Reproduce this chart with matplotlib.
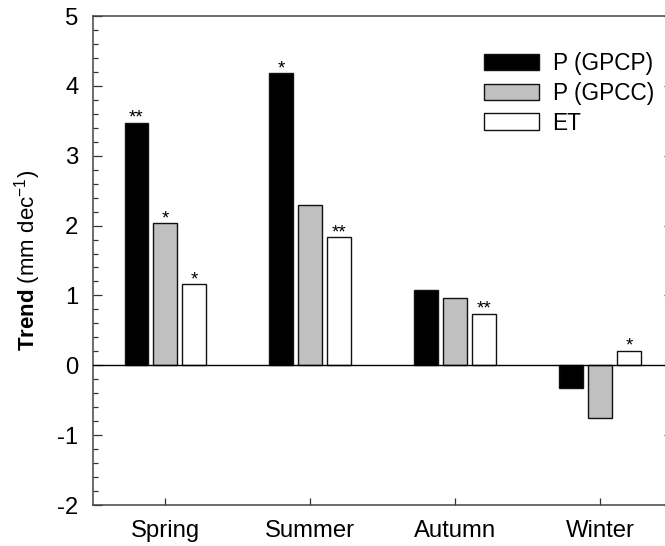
import matplotlib
matplotlib.use("Agg")
import matplotlib.pyplot as plt
import numpy as np
from matplotlib.ticker import MultipleLocator

plt.rcParams['font.family'] = ['Liberation Sans', 'DejaVu Sans']
plt.rcParams['mathtext.fontset'] = 'custom'
plt.rcParams['mathtext.rm'] = 'Liberation Sans'
plt.rcParams['mathtext.bf'] = 'Liberation Sans:bold'

seasons = ["Spring", "Summer", "Autumn", "Winter"]
p_gpcp = [3.47, 4.18, 1.08, -0.32]
p_gpcc = [2.03, 2.30, 0.96, -0.76]
et = [1.16, 1.83, 0.74, 0.21]
sig_gpcp = ["**", "*", "", ""]
sig_gpcc = ["*", "", "", ""]
sig_et = ["*", "**", "**", "*"]
series_labels = ["P (GPCP)", "P (GPCC)", "ET"]
y_ticks = [-2, -1, 0, 1, 2, 3, 4, 5]

W, H = 665, 546
fig = plt.figure(figsize=(W / 100, H / 100), dpi=100)
ax = fig.add_axes([93 / W, 1 - 505 / H, (672.5 - 93) / W, (505 - 16) / H])

x = np.arange(len(seasons))
bw = 0.165
pitch = 0.2
colors = ["black", "#c0c0c0", "white"]
series = [p_gpcp, p_gpcc, et]
sigs = [sig_gpcp, sig_gpcc, sig_et]
for i, (vals, col, lab, sg) in enumerate(zip(series, colors, series_labels, sigs)):
    xs = x + (i - 1) * pitch
    ax.bar(xs, vals, width=bw, color=col, edgecolor="#111111", linewidth=1.0,
           label=lab, zorder=2)
    for xx, v, s in zip(xs, vals, sg):
        if s:
            ax.annotate(s, (xx, v), xytext=(0, 0), textcoords="offset points",
                        ha="center", va="baseline", fontsize=13.5, zorder=3)

ax.axhline(0, color="black", linewidth=1.0, zorder=3)
ax.set_xlim(-0.5, 3.5)
ax.set_ylim(-2, 5)
ax.set_xticks(x)
ax.set_xticklabels(seasons, fontsize=17.2)
ax.set_yticks(y_ticks)
ax.set_yticklabels([str(t) for t in y_ticks], fontsize=17.2)
ax.yaxis.set_minor_locator(MultipleLocator(0.2))
ax.tick_params(axis="y", which="major", direction="in", length=6.5, width=0.9,
               right=True, pad=10.5, color="#333333")
ax.tick_params(axis="y", which="minor", direction="in", length=3.6, width=0.9,
               right=True, color="#333333")
ax.tick_params(axis="x", which="major", direction="in", length=5, width=0.9,
               pad=11, color="#333333")
for sp in ax.spines.values():
    sp.set_linewidth(1.1)
    sp.set_color("#444444")

ax.set_ylabel(r"$\bf{Trend}$ (mm dec$^{-1}$)", fontsize=16, labelpad=10)

leg = ax.legend(loc="upper left", bbox_to_anchor=(484 / W, 1 - 52 / H),
                bbox_transform=fig.transFigure, frameon=False, fontsize=16.3,
                borderpad=0, borderaxespad=0, handlelength=2.45,
                handleheight=0.76, handletextpad=0.58, labelspacing=0.3)

fig.savefig("out.png", dpi=100)
